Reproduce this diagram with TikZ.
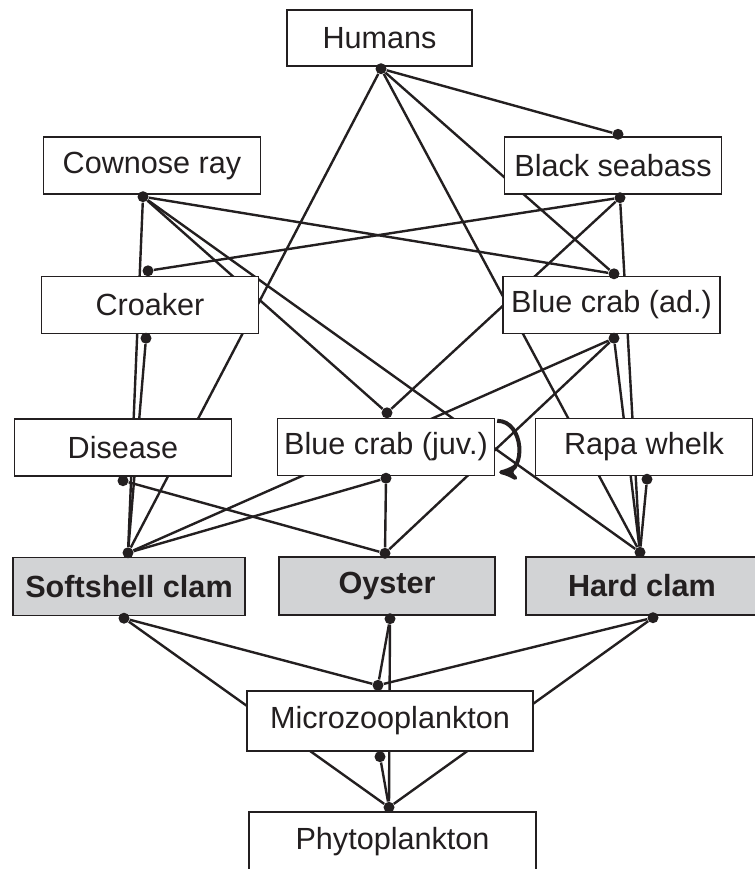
\documentclass[tikz,border=0pt]{standalone}
\usepackage{fontspec}
\setmainfont{Liberation Sans}
\usepackage{tikz}
\usetikzlibrary{
        arrows,
        backgrounds,
        calc
    }
\definecolor{ink}{RGB}{35,31,32}
\definecolor{clamgray}{RGB}{210,211,213}
\tikzset{>=stealth',shorten >=0pt}
\tikzset{species/.style={draw=ink,line width=0.7pt,fill=white,text=ink,inner sep=0pt,
        minimum width=108.5pt,minimum height=28.5pt,font=\fontsize{15.3}{18}\selectfont}}
\tikzset{bivalve/.style={species,fill=clamgray,minimum width=116pt,minimum height=29pt,
        font=\fontsize{15.3}{18}\selectfont\bfseries}}
\tikzset{joint/.style={circle,fill=ink,inner sep=0pt,minimum size=5.5pt}}
\tikzset{link/.style={draw=ink,line width=1.2pt}}

\begin{document}
\begin{tikzpicture}[x=0.5pt,y=-0.5pt]
                    \useasboundingbox (0,0) rectangle (755,869);

                        % boxes
                        \node[species,minimum width=92.5pt,minimum height=28pt] (humans) at (379.5,38) {Humans};
                        \node[species] (ray)     at (152,165.5) {Cownose ray};
                        \node[species] (seabass) at (613,165.5) {Black seabass};
                        \node[species] (croaker) at (150,305)   {Croaker};
                        \node[species] (crabad)  at (611.5,305) {Blue crab (ad.)};
                        \node[species] (disease) at (123,447.5) {Disease};
                        \node[species] (crabjuv) at (386,447)   {Blue crab (juv.)};
                        \node[species] (whelk)   at (644,447)   {Rapa whelk};
                        \node[bivalve] (softshell) at (129,586.5) {Softshell clam};
                        \node[bivalve,minimum width=108pt] (oyster) at (387,586) {Oyster};
                        \node[bivalve] (hardclam)  at (642,586)   {Hard clam};
                        \node[species,minimum width=143pt,minimum height=30pt] (microzoo) at (390,721) {Microzooplankton};
                        \node[species,minimum width=143.5pt,minimum height=30pt] (phyto) at (392.5,842) {Phytoplankton};

                        % dots
                        \node[joint] (humans-b)    at ([shift={(1.5,2)}]humans.south) {};
                        \node[joint] (ray-b)       at ([shift={(-9,2)}]ray.south) {};
                        \node[joint] (seabass-t)   at ([shift={(5,-2)}]seabass.north) {};
                        \node[joint] (seabass-b)   at ([shift={(7,3)}]seabass.south) {};
                        \node[joint] (croaker-t)   at ([shift={(-2,-5)}]croaker.north) {};
                        \node[joint] (croaker-b)   at ([shift={(-4,4)}]croaker.south) {};
                        \node[joint] (crabad-t)    at ([shift={(2.5,-2)}]crabad.north) {};
                        \node[joint] (crabad-b)    at ([shift={(2.5,4)}]crabad.south) {};
                        \node[joint] (disease-b)   at ([shift={(0,4)}]disease.south) {};
                        \node[joint] (crabjuv-t)   at ([shift={(1,-5)}]crabjuv.north) {};
                        \node[joint] (crabjuv-b)   at ([shift={(0,2)}]crabjuv.south) {};
                        \node[joint] (whelk-b)     at ([shift={(3,3)}]whelk.south) {};
                        \node[joint] (softshell-t) at ([shift={(-1,-4)}]softshell.north) {};
                        \node[joint] (softshell-b) at ([shift={(-5,2)}]softshell.south) {};
                        \node[joint] (oyster-t)    at ([shift={(-2,-3)}]oyster.north) {};
                        \node[joint] (oyster-b)    at ([shift={(3,3)}]oyster.south) {};
                        \node[joint] (hardclam-t)  at ([shift={(-2,-4)}]hardclam.north) {};
                        \node[joint] (hardclam-b)  at ([shift={(11,2)}]hardclam.south) {};
                        \node[joint] (microzoo-t)  at ([shift={(-12,-5)}]microzoo.north) {};
                        \node[joint] (microzoo-b)  at ([shift={(-10,5)}]microzoo.south) {};
                        \node[joint] (phyto-t)     at ([shift={(-3.5,-4)}]phyto.north) {};

                    \begin{scope}[on background layer]
                    \path[link]
                            (humans-b)    edge (seabass-t)
                            (humans-b)    edge (crabad-t)
                            (humans-b)    edge (hardclam-t)
                            (humans-b)    edge (softshell-t)
                            (ray-b)       edge (softshell-t)
                            (ray-b)       edge (crabad-t)
                            (ray-b)       edge (crabjuv-t)
                            (ray-b)       edge (hardclam-t)
                            (croaker-t)   edge (seabass-b)
                            (seabass-b)   edge (crabjuv-t)
                            (seabass-b)   edge (hardclam-t)
                            (croaker-b)   edge (softshell-t)
                            (crabad-b)    edge (softshell-t)
                            (crabad-b)    edge (oyster-t)
                            (crabad-b)    edge (hardclam-t)
                            (crabjuv-b)   edge (softshell-t)
                            (crabjuv-b)   edge (oyster-t)
                            (disease-b)   edge (oyster-t)
                            (whelk-b)     edge (hardclam-t)
                            (softshell-b) edge (microzoo-t)
                            (softshell-b) edge (phyto-t)
                            (oyster-b)    edge (microzoo-t)
                            (oyster-b)    edge (phyto-t)
                            (hardclam-b)  edge (microzoo-t)
                            (hardclam-b)  edge (phyto-t)
                            (microzoo-b)  edge (phyto-t)
                            ;
                    \end{scope}

                    % cannibalism loop
                    \draw[->,ink,line width=2pt]
                            ([shift={(2,3)}]crabjuv.north east) to[out=0,in=0,looseness=1.35] ([shift={(4,-4)}]crabjuv.south east);
            \end{tikzpicture}
\end{document}
